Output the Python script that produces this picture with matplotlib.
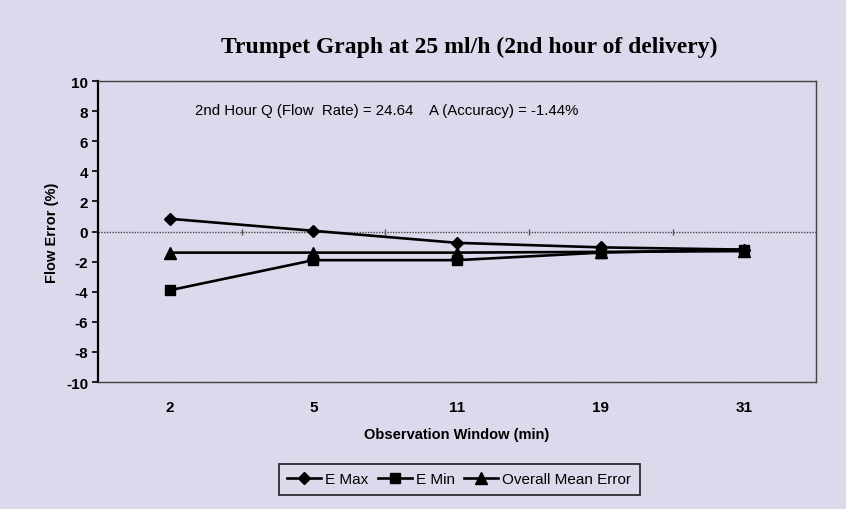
import numpy as np
import matplotlib.pyplot as plt

plt.rcParams['font.family'] = ['Liberation Sans', 'DejaVu Sans']
plt.rcParams['axes.unicode_minus'] = False

# observation windows (min) and errors (%)
windows = ['2', '5', '11', '19', '31']
e_max = [0.85, 0.05, -0.75, -1.05, -1.2]
e_min = [-3.9, -1.9, -1.9, -1.4, -1.2]
mean_err = [-1.4, -1.4, -1.4, -1.35, -1.3]

bg = '#dadaec'
fig = plt.figure(figsize=(8.46, 5.10), dpi=100, facecolor=bg)
ax = fig.add_axes([0.1158, 0.249, 0.849, 0.59], facecolor=bg)

x = np.arange(len(windows))
l1, = ax.plot(x, e_max, color='black', lw=1.9, marker='D', ms=6, label='E Max')
l2, = ax.plot(x, e_min, color='black', lw=1.9, marker='s', ms=7, label='E Min')
l3, = ax.plot(x, mean_err, color='black', lw=1.9, marker='^', ms=8, label='Overall Mean Error')

# category axis crossing at zero (dotted, with ticks between categories)
ax.axhline(0, color='#444444', lw=1.0, ls=(0, (1, 1)), zorder=1)
mid = x[:-1] + 0.5
ax.plot(mid, np.zeros_like(mid), ls='none', marker='|', ms=5, color='#555555', zorder=1)

ax.set_xlim(-0.5, len(windows) - 0.5)
ax.set_ylim(-10, 10)
ax.set_yticks(np.arange(-10, 11, 2))
ax.set_xticks(x)
ax.set_xticklabels(windows)
ax.tick_params(axis='x', length=0, pad=13, labelsize=11)
ax.tick_params(axis='y', direction='out', length=4, width=1.2, pad=3, labelsize=11)
for lab in ax.get_xticklabels() + ax.get_yticklabels():
    lab.set_fontweight('bold')

ax.spines['left'].set_linewidth(1.6)
for s in ['top', 'bottom', 'right']:
    ax.spines[s].set_linestyle((0, (1, 0.8)))
    ax.spines[s].set_linewidth(1.0)
    ax.spines[s].set_color('#444444')

ax.set_ylabel('Flow Error (%)', fontsize=10.5, fontweight='bold', labelpad=5)
ax.set_xlabel('Observation Window (min)', fontsize=10.5, fontweight='bold', labelpad=9)

fig.text(0.555, 0.907, 'Trumpet Graph at 25 ml/h (2nd hour of delivery)',
         ha='center', va='center', fontsize=17, fontweight='bold',
         family=['Liberation Serif', 'DejaVu Serif'])
ax.text(0.135, 0.905, '2nd Hour Q (Flow  Rate) = 24.64    A (Accuracy) = -1.44%',
        transform=ax.transAxes, ha='left', va='center', fontsize=10.8)

leg = fig.legend(handles=[l1, l2, l3], loc='center', bbox_to_anchor=(0.543, 0.058),
                 ncol=3, frameon=True, fancybox=False, edgecolor='black',
                 facecolor=bg, fontsize=11, handlelength=2.2, handletextpad=0.3,
                 columnspacing=0.6, borderpad=0.55)
leg.get_frame().set_linewidth(1.3)

fig.savefig('out.png', dpi=100, facecolor=bg)
